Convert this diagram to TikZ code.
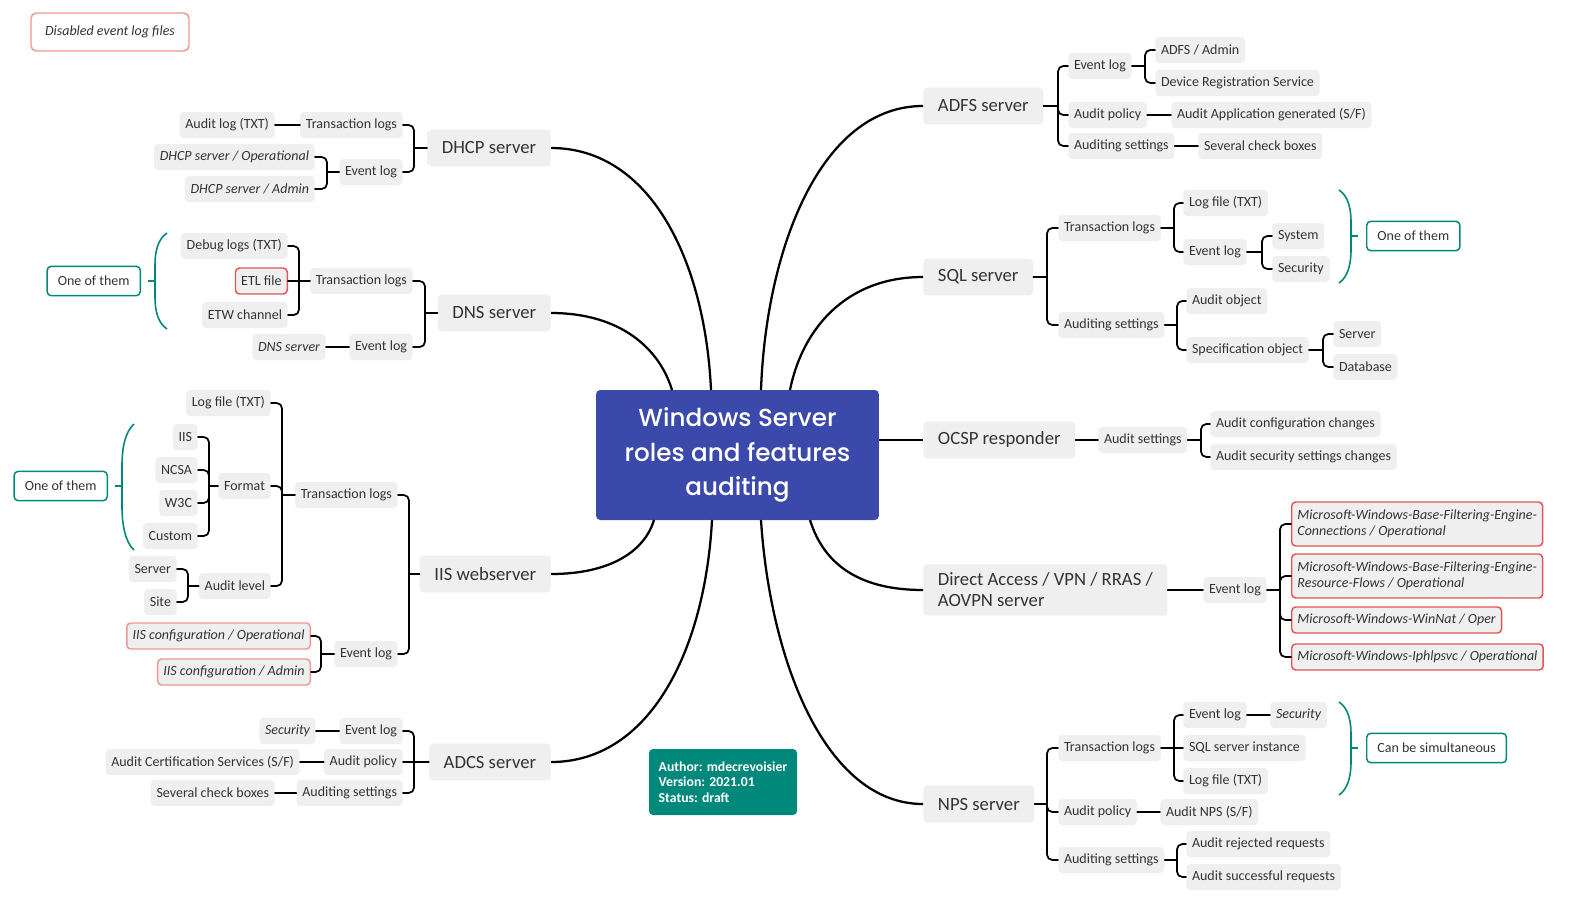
\documentclass[tikz,border=0pt]{standalone}
\usepackage{fontspec}
\setmainfont{Carlito}
\newfontfamily\TitleFont{Poppins}[BoldFont={* Medium}]
\usepackage{xcolor}
\definecolor{ColGray}{RGB}{239,239,239}
\definecolor{ColRoot}{RGB}{59,73,171}
\definecolor{ColTeal}{RGB}{0,137,123}
\definecolor{ColRed}{RGB}{230,84,84}
\definecolor{ColPink}{RGB}{240,150,150}
\definecolor{ColText}{RGB}{51,51,51}
\usepackage{tikz}
\tikzstyle{Root}=[fill=ColRoot,rounded corners=3pt,text=white,align=center,
minimum width=212pt,minimum height=97.5pt,
font=\TitleFont\bfseries\fontsize{18.5}{26}\selectfont]
\tikzstyle{Main}=[fill=ColGray,rounded corners=3pt,text=ColText,inner xsep=11pt,
minimum height=27.5pt,font=\fontsize{14}{15.75}\selectfont]
\tikzstyle{Leaf}=[fill=ColGray,rounded corners=3pt,text=ColText,inner xsep=4.3pt,
inner ysep=2pt,minimum height=19.5pt,font=\fontsize{10.5}{12}\selectfont]
\tikzstyle{Ital}=[font=\fontsize{10.5}{12}\selectfont\itshape]
\tikzstyle{Off}=[draw=ColRed,line width=1.1pt]
\tikzstyle{OffLight}=[draw=ColPink,line width=1.1pt]
\tikzstyle{Note}=[draw=ColTeal,fill=white,rounded corners=3pt,line width=1.1pt,
text=ColText,minimum height=22pt,inner xsep=8pt,font=\fontsize{10.5}{12}\selectfont]
\tikzstyle{Legend}=[draw=ColPink,fill=white,rounded corners=4pt,line width=1.1pt,
text=ColText,minimum width=118.5pt,minimum height=28.5pt,
font=\fontsize{10.5}{12}\selectfont\itshape]
\tikzstyle{Author}=[fill=ColTeal,rounded corners=3pt,text=white,align=left,
minimum width=111pt,minimum height=49.5pt,font=\bfseries\fontsize{10.3}{11.6}\selectfont]
\tikzstyle{Edge}=[draw=black,line width=1.3pt,rounded corners=4pt,line cap=round]
\tikzstyle{Curve}=[draw=black,line width=1.7pt]
\tikzstyle{Brace}=[draw=ColTeal,line width=1.2pt]
\begin{document}
\begin{tikzpicture}[x=0.75pt,y=0.75pt]
    \fill[white](0,0)rectangle(1587,-911);
    \useasboundingbox(0,0)rectangle(1587,-911);
    \node[Root](root)at(737.5,-455){Windows Server\\roles and features\\auditing};
    \node[Legend](legend)at(110,-32){Disabled event log files};
    \node[Author](author)at(723,-782){Author: mdecrevoisier\\Version: 2021.01\\Status: draft};
    \begin{scope}[every node/.append style={anchor=west}]
        \node[Main](adfs)at(923,-106){ADFS server};
        \node[Leaf](adfsEv)at(1068,-66){Event log};
        \node[Leaf](adfsAdm)at(1155,-50){ADFS / Admin};
        \node[Leaf](adfsDrs)at(1155,-83){Device Registration Service};
        \node[Leaf](adfsPol)at(1068,-115){Audit policy};
        \node[Leaf](adfsApp)at(1171,-115){Audit Application generated (S/F)};
        \node[Leaf](adfsSet)at(1068,-146){Auditing settings};
        \node[Leaf](adfsChk)at(1198,-146){Several check boxes};
        \node[Main](sql)at(923,-277){SQL server};
        \node[Leaf](sqlTr)at(1058,-228){Transaction logs};
        \node[Leaf](sqlTxt)at(1183,-203){Log file (TXT)};
        \node[Leaf](sqlEv)at(1183,-252){Event log};
        \node[Leaf](sqlSys)at(1272,-236){System};
        \node[Leaf](sqlSec)at(1272,-269){Security};
        \node[Leaf](sqlSet)at(1058,-325){Auditing settings};
        \node[Leaf](sqlObj)at(1186,-301){Audit object};
        \node[Leaf](sqlSpec)at(1186,-350){Specification object};
        \node[Leaf](sqlSrv)at(1333,-334){Server};
        \node[Leaf](sqlDb)at(1333,-367){Database};
        \node[Note](sqlNote)at(1366,-236){One of them};
        \node[Main](ocsp)at(923,-440){OCSP responder};
        \node[Leaf](ocspSet)at(1098,-440){Audit settings};
        \node[Leaf](ocspCfg)at(1210,-424){Audit configuration changes};
        \node[Leaf](ocspSec)at(1210,-457){Audit security settings changes};
        \node[Main,align=left,inner ysep=6.5pt](da)at(923,-590){Direct Access / VPN / RRAS /\\AOVPN server};
        \node[Leaf](daEv)at(1203,-590){Event log};
        \node[Leaf,Ital,Off,align=left,minimum height=33pt](daBfc)at(1291,-524){Microsoft-Windows-Base-Filtering-Engine-\\Connections / Operational};
        \node[Leaf,Ital,Off,align=left,minimum height=33pt](daBfr)at(1291,-576){Microsoft-Windows-Base-Filtering-Engine-\\Resource-Flows / Operational};
        \node[Leaf,Ital,Off](daNat)at(1291,-620){Microsoft-Windows-WinNat / Oper};
        \node[Leaf,Ital,Off](daIph)at(1291,-657){Microsoft-Windows-Iphlpsvc / Operational};
        \node[Main](nps)at(923,-804){NPS server};
        \node[Leaf](npsTr)at(1058,-748){Transaction logs};
        \node[Leaf](npsEv)at(1183,-715){Event log};
        \node[Leaf,Ital](npsSec)at(1270,-715){Security};
        \node[Leaf](npsSql)at(1183,-748){SQL server instance};
        \node[Leaf](npsTxt)at(1183,-781){Log file (TXT)};
        \node[Leaf](npsPol)at(1058,-812){Audit policy};
        \node[Leaf](npsAud)at(1160,-812){Audit NPS (S/F)};
        \node[Leaf](npsSet)at(1058,-860){Auditing settings};
        \node[Leaf](npsRej)at(1186,-844){Audit rejected requests};
        \node[Leaf](npsOk)at(1186,-877){Audit successful requests};
        \node[Note](npsNote)at(1366,-748){Can be simultaneous};
    \end{scope}
    \begin{scope}[every node/.append style={anchor=east}]
        \node[Main](dhcp)at(551,-148){DHCP server};
        \node[Leaf](dhcpTr)at(403,-125){Transaction logs};
        \node[Leaf](dhcpTxt)at(275,-125){Audit log (TXT)};
        \node[Leaf](dhcpEv)at(403,-172){Event log};
        \node[Leaf,Ital](dhcpOp)at(315,-157){DHCP server / Operational};
        \node[Leaf,Ital](dhcpAdm)at(315,-189){DHCP server / Admin};
        \node[Main](dns)at(551,-313){DNS server};
        \node[Leaf](dnsTr)at(413,-281){Transaction logs};
        \node[Leaf](dnsDbg)at(288,-246){Debug logs (TXT)};
        \node[Leaf,Off](dnsEtl)at(288,-281){ETL file};
        \node[Leaf](dnsEtw)at(288,-315){ETW channel};
        \node[Leaf](dnsEv)at(413,-347){Event log};
        \node[Leaf,Ital](dnsSrv)at(326,-347){DNS server};
        \node[Note](dnsNote)at(141,-281){One of them};
        \node[Main](iis)at(551,-574){IIS webserver};
        \node[Leaf](iisTr)at(398,-495){Transaction logs};
        \node[Leaf](iisTxt)at(271,-403){Log file (TXT)};
        \node[Leaf](iisFmt)at(271,-486){Format};
        \node[Leaf](iisIis)at(198,-437){IIS};
        \node[Leaf](iisNcsa)at(198,-470){NCSA};
        \node[Leaf](iisW3c)at(198,-503){W3C};
        \node[Leaf](iisCus)at(198,-536){Custom};
        \node[Leaf](iisLvl)at(271,-586){Audit level};
        \node[Leaf](iisSrv)at(177,-569){Server};
        \node[Leaf](iisSite)at(177,-602){Site};
        \node[Leaf](iisEv)at(398,-654){Event log};
        \node[Leaf,Ital,OffLight](iisOp)at(311,-636){IIS configuration / Operational};
        \node[Leaf,Ital,OffLight](iisAdm)at(311,-672){IIS configuration / Admin};
        \node[Note](iisNote)at(108,-486){One of them};
        \node[Main](adcs)at(551,-762){ADCS server};
        \node[Leaf](adcsEv)at(403,-731){Event log};
        \node[Leaf,Ital](adcsSec)at(316,-731){Security};
        \node[Leaf](adcsPol)at(403,-762){Audit policy};
        \node[Leaf](adcsCert)at(300,-762){Audit Certification Services (S/F)};
        \node[Leaf](adcsSet)at(403,-793){Auditing settings};
        \node[Leaf](adcsChk)at(275,-793){Several check boxes};
    \end{scope}
    \coordinate(rDhcp)at(711,-390);
    \coordinate(rDns)at(672,-390);
    \coordinate(rIis)at(654,-520);
    \coordinate(rAdcs)at(712,-520);
    \coordinate(rAdfs)at(761,-390);
    \coordinate(rSql)at(790,-390);
    \coordinate(rDa)at(810,-520);
    \coordinate(rNps)at(761,-520);
    \draw[Curve](dhcp.east)..controls(650,-148)and(705,-260)..(rDhcp);
    \draw[Curve](dns.east)..controls(622,-313)and(660,-350)..(rDns);
    \draw[Curve](iis.east)..controls(612,-574)and(645,-550)..(rIis);
    \draw[Curve](adcs.east)..controls(650,-762)and(705,-650)..(rAdcs);
    \draw[Curve](adfs.west)..controls(820,-106)and(766,-250)..(rAdfs);
    \draw[Curve](sql.west)..controls(845,-277)and(802,-330)..(rSql);
    \draw[Curve](ocsp.west)--(root.east|-ocsp.west);
    \draw[Curve](da.west)..controls(860,-590)and(824,-565)..(rDa);
    \draw[Curve](nps.west)..controls(825,-804)and(770,-660)..(rNps);
    \coordinate(jAdfs)at(1058,-106);
    \coordinate(jAdfsEv)at(1145,-66);
    \coordinate(jSql)at(1047,-277);
    \coordinate(jSqlTr)at(1174,-228);
    \coordinate(jSqlEv)at(1262,-252);
    \coordinate(jSqlSet)at(1177,-325);
    \coordinate(jSqlSpec)at(1323,-350);
    \coordinate(jOcsp)at(1201,-440);
    \coordinate(jDa)at(1280,-590);
    \coordinate(jNps)at(1047,-804);
    \coordinate(jNpsTr)at(1174,-748);
    \coordinate(jNpsSet)at(1177,-860);
    \coordinate(jDhcp)at(414,-148);
    \coordinate(jDhcpEv)at(327,-172);
    \coordinate(jDns)at(425,-313);
    \coordinate(jDnsTr)at(299,-281);
    \coordinate(jIis)at(409,-574);
    \coordinate(jIisTr)at(282,-495);
    \coordinate(jIisFmt)at(209,-486);
    \coordinate(jIisLvl)at(188,-586);
    \coordinate(jIisEv)at(321,-654);
    \coordinate(jAdcs)at(414,-762);
    \draw[Edge](adfs)--(jAdfs);
    \draw[Edge](jAdfs)|-(adfsEv);
    \draw[Edge](jAdfs)|-(adfsPol);
    \draw[Edge](jAdfs)|-(adfsSet);
    \draw[Edge](adfsEv)--(jAdfsEv);
    \draw[Edge](jAdfsEv)|-(adfsAdm);
    \draw[Edge](jAdfsEv)|-(adfsDrs);
    \draw[Edge](adfsPol)--(adfsApp);
    \draw[Edge](adfsSet)--(adfsChk);
    \draw[Edge](sql)--(jSql);
    \draw[Edge](jSql)|-(sqlTr);
    \draw[Edge](jSql)|-(sqlSet);
    \draw[Edge](sqlTr)--(jSqlTr);
    \draw[Edge](jSqlTr)|-(sqlTxt);
    \draw[Edge](jSqlTr)|-(sqlEv);
    \draw[Edge](sqlEv)--(jSqlEv);
    \draw[Edge](jSqlEv)|-(sqlSys);
    \draw[Edge](jSqlEv)|-(sqlSec);
    \draw[Edge](sqlSet)--(jSqlSet);
    \draw[Edge](jSqlSet)|-(sqlObj);
    \draw[Edge](jSqlSet)|-(sqlSpec);
    \draw[Edge](sqlSpec)--(jSqlSpec);
    \draw[Edge](jSqlSpec)|-(sqlSrv);
    \draw[Edge](jSqlSpec)|-(sqlDb);
    \draw[Edge](ocsp)--(ocspSet);
    \draw[Edge](ocspSet)--(jOcsp);
    \draw[Edge](jOcsp)|-(ocspCfg);
    \draw[Edge](jOcsp)|-(ocspSec);
    \draw[Edge](da)--(daEv);
    \draw[Edge](daEv)--(jDa);
    \draw[Edge](jDa)|-(daBfc);
    \draw[Edge](jDa)|-(daBfr);
    \draw[Edge](jDa)|-(daNat);
    \draw[Edge](jDa)|-(daIph);
    \draw[Edge](nps)--(jNps);
    \draw[Edge](jNps)|-(npsTr);
    \draw[Edge](jNps)|-(npsPol);
    \draw[Edge](jNps)|-(npsSet);
    \draw[Edge](npsTr)--(jNpsTr);
    \draw[Edge](jNpsTr)|-(npsEv);
    \draw[Edge](jNpsTr)--(npsSql);
    \draw[Edge](jNpsTr)|-(npsTxt);
    \draw[Edge](npsEv)--(npsSec);
    \draw[Edge](npsPol)--(npsAud);
    \draw[Edge](npsSet)--(jNpsSet);
    \draw[Edge](jNpsSet)|-(npsRej);
    \draw[Edge](jNpsSet)|-(npsOk);
    \draw[Edge](dhcp)--(jDhcp);
    \draw[Edge](jDhcp)|-(dhcpTr);
    \draw[Edge](jDhcp)|-(dhcpEv);
    \draw[Edge](dhcpTr)--(dhcpTxt);
    \draw[Edge](dhcpEv)--(jDhcpEv);
    \draw[Edge](jDhcpEv)|-(dhcpOp);
    \draw[Edge](jDhcpEv)|-(dhcpAdm);
    \draw[Edge](dns)--(jDns);
    \draw[Edge](jDns)|-(dnsTr);
    \draw[Edge](jDns)|-(dnsEv);
    \draw[Edge](dnsTr)--(jDnsTr);
    \draw[Edge](jDnsTr)|-(dnsDbg);
    \draw[Edge](jDnsTr)--(dnsEtl);
    \draw[Edge](jDnsTr)|-(dnsEtw);
    \draw[Edge](dnsEv)--(dnsSrv);
    \draw[Edge](iis)--(jIis);
    \draw[Edge](jIis)|-(iisTr);
    \draw[Edge](jIis)|-(iisEv);
    \draw[Edge](iisTr)--(jIisTr);
    \draw[Edge](jIisTr)|-(iisTxt);
    \draw[Edge](jIisTr)|-(iisFmt);
    \draw[Edge](jIisTr)|-(iisLvl);
    \draw[Edge](iisFmt)--(jIisFmt);
    \draw[Edge](jIisFmt)|-(iisIis);
    \draw[Edge](jIisFmt)|-(iisNcsa);
    \draw[Edge](jIisFmt)|-(iisW3c);
    \draw[Edge](jIisFmt)|-(iisCus);
    \draw[Edge](iisLvl)--(jIisLvl);
    \draw[Edge](jIisLvl)|-(iisSrv);
    \draw[Edge](jIisLvl)|-(iisSite);
    \draw[Edge](iisEv)--(jIisEv);
    \draw[Edge](jIisEv)|-(iisOp);
    \draw[Edge](jIisEv)|-(iisAdm);
    \draw[Edge](adcs)--(jAdcs);
    \draw[Edge](jAdcs)|-(adcsEv);
    \draw[Edge](jAdcs)--(adcsPol);
    \draw[Edge](jAdcs)|-(adcsSet);
    \draw[Edge](adcsEv)--(adcsSec);
    \draw[Edge](adcsPol)--(adcsCert);
    \draw[Edge](adcsSet)--(adcsChk);
    \draw[Brace](1339,-190)..controls(1348,-196)and(1351,-208)..(1351,-222)--(1351,-250)..controls(1351,-264)and(1348,-277)..(1339,-283);
    \draw[Brace](1351,-236)--(1358,-236);
    \draw[Brace](1339,-702)..controls(1348,-708)and(1351,-720)..(1351,-734)--(1351,-762)..controls(1351,-776)and(1348,-789)..(1339,-795);
    \draw[Brace](1351,-748)--(1358,-748);
    \draw[Brace](167,-233)..controls(158,-239)and(155,-251)..(155,-265)--(155,-297)..controls(155,-311)and(158,-323)..(167,-329);
    \draw[Brace](155,-281)--(148,-281);
    \draw[Brace](134,-424)..controls(125,-432)and(122,-448)..(122,-466)--(122,-506)..controls(122,-524)and(125,-542)..(134,-550);
    \draw[Brace](122,-486)--(115,-486);
\end{tikzpicture}
\end{document}
